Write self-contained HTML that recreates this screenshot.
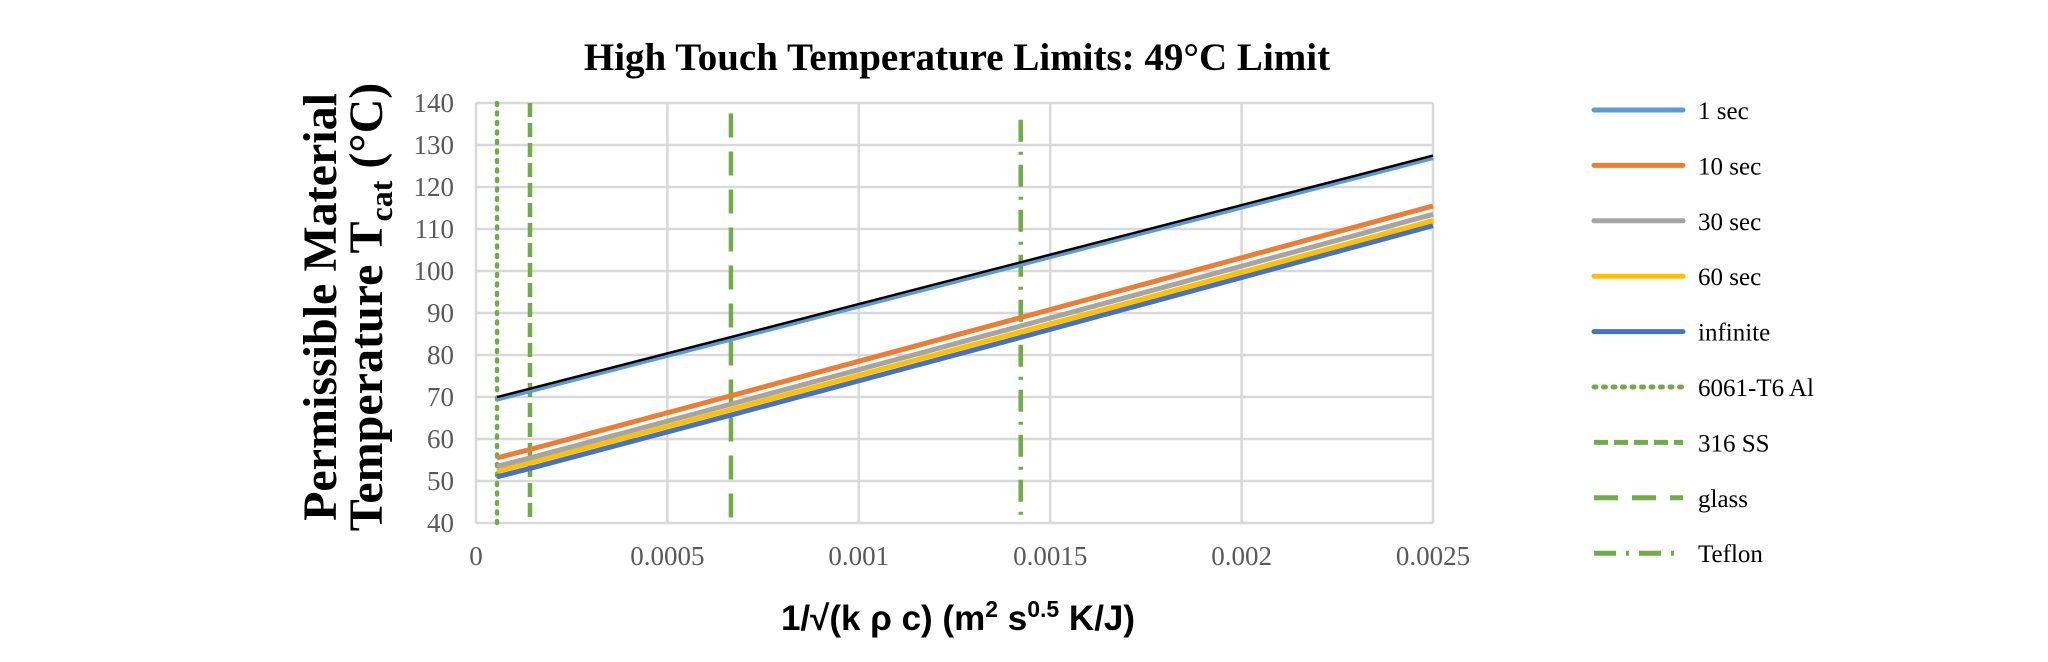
<!DOCTYPE html>
<html><head><meta charset="utf-8"><style>
body{margin:0;background:#fff;}
svg{display:block;}
</style></head><body>
<svg id="chart" width="2048" height="662" xmlns="http://www.w3.org/2000/svg">
<text x="957" y="70" text-anchor="middle" font-family="Liberation Serif, serif" font-weight="bold" font-size="39">High Touch Temperature Limits: 49°C Limit</text>
<g font-family="Liberation Serif, serif" font-weight="bold" font-size="48">
<text transform="translate(336,307) rotate(-90)" text-anchor="middle">Permissible Material</text>
<text transform="translate(382,307) rotate(-90)" text-anchor="middle">Temperature T<tspan font-size="32" dy="10">cat</tspan><tspan dy="-10"> (°C)</tspan></text>
</g>
<text x="958" y="630" text-anchor="middle" font-family="Liberation Sans, sans-serif" font-weight="bold" font-size="35">1/√(k ρ c) (m<tspan font-size="23" dy="-13">2</tspan><tspan dy="13"> s</tspan><tspan font-size="23" dy="-13">0.5</tspan><tspan dy="13"> K/J)</tspan></text>
<g id="grid"></g><g id="marks"></g><g id="legend"></g>
</svg>
<script>
const xTicks=[0,0.0005,0.001,0.0015,0.002,0.0025];
const xTickLabels=["0","0.0005","0.001","0.0015","0.002","0.0025"];
const yTicks=[40,50,60,70,80,90,100,110,120,130,140];
const xPoints=[0.000055,0.000141,0.000666,0.001423,0.0025];
const sec1=[69.5,71.5,83.8,101.6,127];
const sec10=[55.5,57.5,70.3,88.9,115.5];
const sec30=[53.5,55.5,68.3,86.9,113.5];
const sec60=[52.3,54.3,67,85.5,112];
const secInf=[51,53,65.7,84.2,110.8];
const matNames=["6061-T6 Al","316 SS","glass","Teflon"];
const matX=[0.000055,0.000141,0.000666,0.001423];
const matTop=[140,140,137.5,136];
const NS="http://www.w3.org/2000/svg";
const X0=476,X1=1433,Y0=523,Y1=103;
const xs=v=>X0+(v-0)/(0.0025)*(X1-X0);
const ys=v=>Y0-(v-40)/(100)*(Y0-Y1);
function mk(t,a,p){const e=document.createElementNS(NS,t);for(const k in a)e.setAttribute(k,a[k]);p.appendChild(e);return e;}
const grid=document.getElementById('grid'),marks=document.getElementById('marks'),leg=document.getElementById('legend');
yTicks.forEach(v=>{
const l=mk('line',{x1:X0,x2:X1,y1:ys(v),y2:ys(v),stroke:'#d9d9d9','stroke-width':2.5},grid);


const t=mk('text',{x:X0-22,y:ys(v)+9,'text-anchor':'end','font-family':'Liberation Serif, serif','font-size':27,fill:'#595959'},grid);
t.textContent=v;


});
xTicks.forEach((v,i)=>{
const l=mk('line',{x1:xs(v),x2:xs(v),y1:Y1,y2:Y0,stroke:'#d9d9d9','stroke-width':2.5},grid);


const t=mk('text',{x:xs(v),y:Y0+42,'text-anchor':'middle','font-family':'Liberation Serif, serif','font-size':27,fill:'#595959'},grid);
t.textContent=xTickLabels[i];


});
const matDash=["2 7.5","14 6","24 14","22 10 3 10"];
matX.forEach((v,i)=>{
const l=mk('line',{x1:xs(v),x2:xs(v),y1:ys(matTop[i]),y2:Y0,stroke:'#70ad47','stroke-width':4.5,'stroke-dasharray':matDash[i],'stroke-linecap':i==0?'round':'butt'},marks);


});
const series=[[secInf,'#4472c4','infinite'],[sec60,'#ffc000','60 sec'],[sec30,'#a5a5a5','30 sec'],[sec10,'#ed7d31','10 sec'],[sec1,'#5b9bd5','1 sec']];
series.forEach(s=>{
const p=mk('polyline',{points:xPoints.map((x,i)=>xs(x)+','+ys(s[0][i])).join(' '),fill:'none',stroke:s[1],'stroke-width':5},marks);


});
const tl=mk('polyline',{points:xPoints.map((x,i)=>xs(x)+','+(ys(sec1[i])-2)).join(' '),fill:'none',stroke:'#000','stroke-width':2.5},marks);


const legItems=[["1 sec","#5b9bd5",""],["10 sec","#ed7d31",""],["30 sec","#a5a5a5",""],["60 sec","#ffc000",""],["infinite","#4472c4",""],["6061-T6 Al","#70ad47","2 7.5"],["316 SS","#70ad47","14 6"],["glass","#70ad47","24 14"],["Teflon","#70ad47","22 10 3 10"]];
legItems.forEach((it,i)=>{
const y=110+i*55.4;
const g=mk('g',{},leg);


const a={x1:1594,x2:1683,y1:y,y2:y,stroke:it[1],'stroke-width':5,'stroke-linecap':'round'};
if(it[2]){a['stroke-dasharray']=it[2];a['stroke-linecap']=i==5?'round':'butt';}
mk('line',a,g);
const t=mk('text',{x:1698,y:y+9,'font-family':'Liberation Serif, serif','font-size':25,fill:'#000'},g);
t.textContent=it[0];
});
</script>
</body></html>
